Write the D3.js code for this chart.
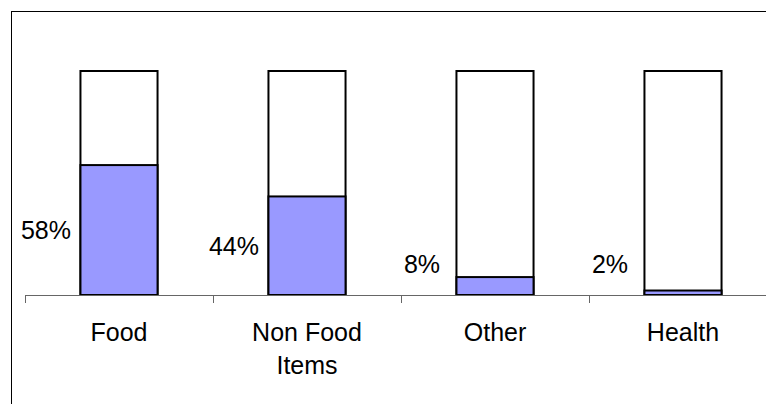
<!DOCTYPE html>
<html>
<head>
<meta charset="utf-8">
<script src="https://cdn.jsdelivr.net/npm/d3@7"></script>
<style>
  html, body { margin: 0; padding: 0; background: #fff; }
  svg { display: block; }
  text { font-family: "Liberation Sans", Arial, sans-serif; fill: #000; }
</style>
</head>
<body>
<svg id="chart" width="766" height="404"></svg>
<script>
// Share of responses per category (percent)
const categories = ["Food", "Non Food Items", "Other", "Health"];
const shares = [58, 44, 8, 2];
const valueLabels = ["58%", "44%", "8%", "2%"];
const total = 100;

const svg = d3.select("#chart");

// Outer chart frame (runs past the right and bottom edges)
svg.append("rect")
  .attr("x", 11.5).attr("y", 11.5)
  .attr("width", 800).attr("height", 420)
  .attr("fill", "none").attr("stroke", "#000").attr("stroke-width", 1);

const x = d3.scaleBand()
  .domain(categories)
  .range([25, 25 + 188 * categories.length])
  .paddingInner(0.59).paddingOuter(0.295);

const y = d3.scaleLinear().domain([0, total]).range([295, 71]);

const step = x.step();
const bandStart = d => x(d) - x.paddingOuter() * step;

// Remainder up to 100%
svg.append("g").selectAll("rect")
  .data(categories)
  .join("rect")
  .attr("x", d => x(d))
  .attr("y", y(total))
  .attr("width", x.bandwidth())
  .attr("height", y(0) - y(total))
  .attr("fill", "#fff")
  .attr("stroke", "#000").attr("stroke-width", 2);

// Share segment
svg.append("g").selectAll("rect")
  .data(categories)
  .join("rect")
  .attr("x", d => x(d))
  .attr("y", (d, i) => y(shares[i]))
  .attr("width", x.bandwidth())
  .attr("height", (d, i) => y(0) - y(shares[i]))
  .attr("fill", "#9999FF")
  .attr("stroke", "#000").attr("stroke-width", 2);

// Category axis with ticks between categories
const axisG = svg.append("g");
axisG.append("line")
  .attr("x1", 25).attr("x2", 800)
  .attr("y1", y(0) + 0.5).attr("y2", y(0) + 0.5)
  .attr("stroke", "#666").attr("stroke-width", 1);
axisG.selectAll("line.tick")
  .data(categories)
  .join("line")
  .attr("class", "tick")
  .attr("x1", d => Math.round(bandStart(d)) + 0.5)
  .attr("x2", d => Math.round(bandStart(d)) + 0.5)
  .attr("y1", y(0)).attr("y2", y(0) + 8)
  .attr("stroke", "#666").attr("stroke-width", 1);

// Category labels, wrapped onto two lines where needed
const wrapLines = s => s === "Non Food Items" ? ["Non Food", "Items"] : [s];
svg.append("g").selectAll("text")
  .data(categories)
  .join("text")
  .attr("x", d => x(d) + x.bandwidth() / 2)
  .attr("y", 341)
  .attr("text-anchor", "middle")
  .attr("font-size", 25)
  .each(function (d) {
    const t = d3.select(this);
    wrapLines(d).forEach((line, k) => {
      t.append("tspan")
        .attr("x", x(d) + x.bandwidth() / 2)
        .attr("dy", k === 0 ? 0 : 33)
        .text(line);
    });
  });

// Value labels to the left of each bar
svg.append("g").selectAll("text")
  .data(categories)
  .join("text")
  .attr("x", d => bandStart(d) + 21)
  .attr("y", (d, i) => Math.min((y(shares[i]) + y(0)) / 2, y(0) - 31) + 9)
  .attr("text-anchor", "middle")
  .attr("font-size", 25)
  .text((d, i) => valueLabels[i]);
</script>
</body>
</html>
